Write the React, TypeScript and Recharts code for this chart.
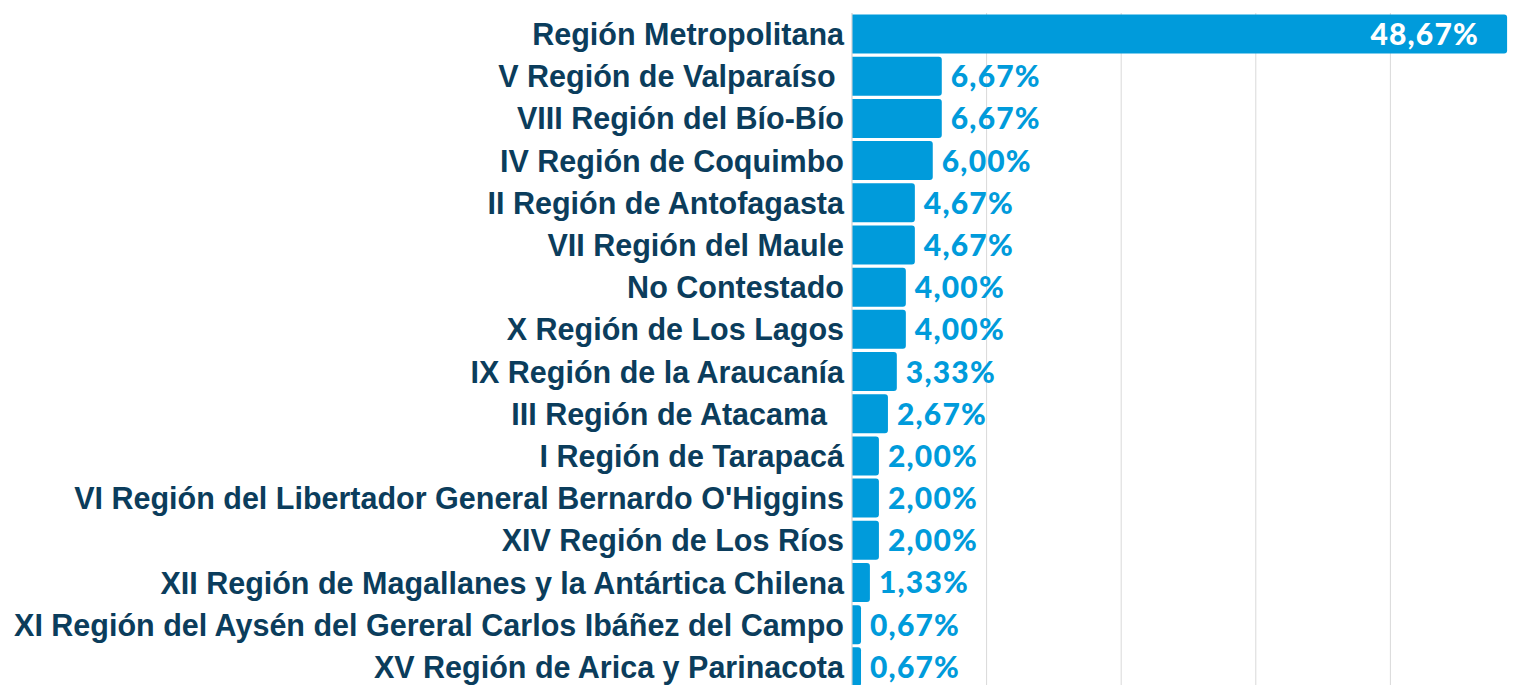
import React from 'react';
import { BarChart, Bar, XAxis, YAxis, CartesianGrid, LabelList } from 'recharts';

const categories = [
  'Región Metropolitana',
  'V Región de Valparaíso ',
  'VIII Región del Bío-Bío',
  'IV Región de Coquimbo',
  'II Región de Antofagasta',
  'VII Región del Maule',
  'No Contestado',
  'X Región de Los Lagos',
  'IX Región de la Araucanía',
  'III Región de Atacama  ',
  'I Región de Tarapacá',
  "VI Región del Libertador General Bernardo O'Higgins",
  'XIV Región de Los Ríos',
  'XII Región de Magallanes y la Antártica Chilena',
  'XI Región del Aysén del Gereral Carlos Ibáñez del Campo',
  'XV Región de Arica y Parinacota',
];
const values = [48.67, 6.67, 6.67, 6.0, 4.67, 4.67, 4.0, 4.0, 3.33, 2.67, 2.0, 2.0, 2.0, 1.33, 0.67, 0.67];
const valueLabels = ['48,67%', '6,67%', '6,67%', '6,00%', '4,67%', '4,67%', '4,00%', '4,00%', '3,33%', '2,67%', '2,00%', '2,00%', '2,00%', '1,33%', '0,67%', '0,67%'];
const xTicks = [0, 10, 20, 30, 40, 50];

const data = categories.map((name, i) => ({ name, value: values[i], label: valueLabels[i] }));

const BLUE = '#009bdb';
const NAVY = '#0b3d5c';

const CategoryTick = (props: any) => {
  const { x, y, payload } = props;
  return (
    <text
      x={x}
      y={y}
      dy={11}
      textAnchor="end"
      fill={NAVY}
      fontFamily="'Liberation Sans', Arial, sans-serif"
      fontWeight={700}
      fontSize={30.5}
      style={{ whiteSpace: 'pre' }}
    >
      {payload.value}
    </text>
  );
};

const ValueLabel = (props: any) => {
  const { x, y, width, height, index } = props;
  const text = valueLabels[index];
  const cy = y + height / 2;
  const common = {
    fontFamily: 'Lato, sans-serif',
    fontWeight: 900,
    fontSize: 30,
    letterSpacing: 1.2,
  } as any;
  if (index === 0) {
    return (
      <text x={x + width - 28} y={cy} dy={11} textAnchor="end" fill="#ffffff" {...common}>
        {text}
      </text>
    );
  }
  return (
    <text x={x + width + 9} y={cy} dy={11} textAnchor="start" fill={BLUE} {...common}>
      {text}
    </text>
  );
};

export default function App() {
  return (
    <div style={{ position: 'fixed', left: 0, top: 0, width: 1514, height: 685, overflow: 'hidden', background: '#fff' }}>
      <BarChart
        width={1535}
        height={690}
        data={data}
        layout="vertical"
        margin={{ top: 13, right: 10, bottom: 2, left: 0 }}
        barCategoryGap={1.5}
      >
        <CartesianGrid horizontal={false} vertical={true} stroke="#d9d9d9" />
        <XAxis type="number" domain={[0, 50]} ticks={xTicks} hide />
        <YAxis
          type="category"
          dataKey="name"
          width={852}
          axisLine={{ stroke: '#d9d9d9' }}
          tickLine={false}
          tick={<CategoryTick />}
          tickMargin={2}
          interval={0}
        />
        <Bar dataKey="value" fill={BLUE} radius={[0, 3, 3, 0]} isAnimationActive={false}>
          <LabelList dataKey="label" content={<ValueLabel />} />
        </Bar>
      </BarChart>
    </div>
  );
}
